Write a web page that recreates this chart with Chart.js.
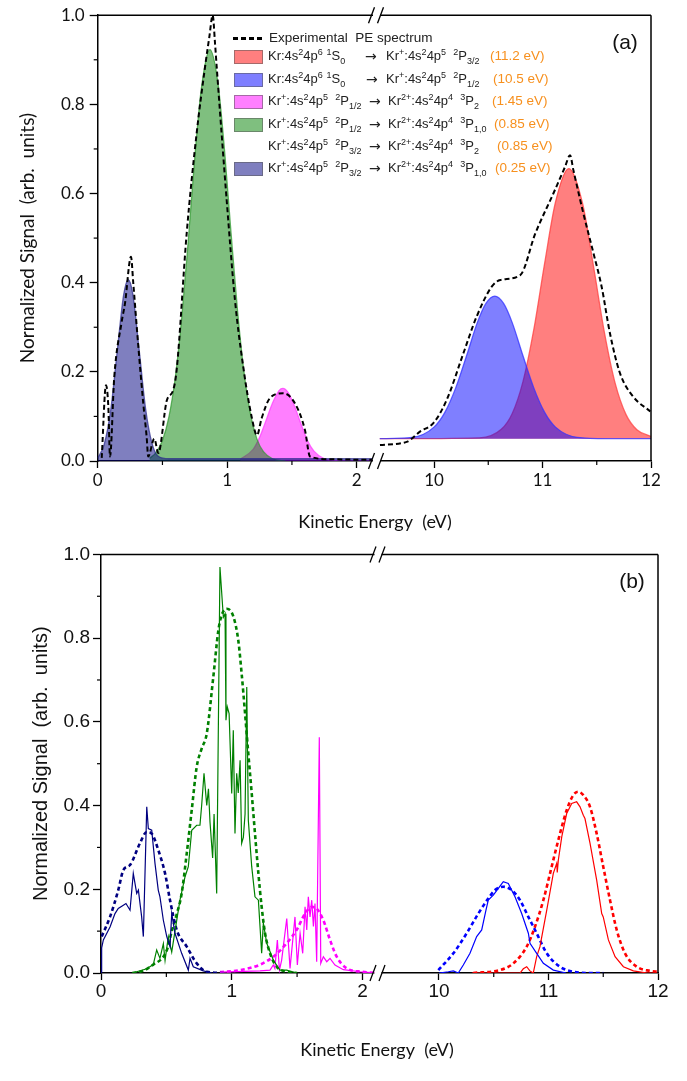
<!DOCTYPE html>
<html>
<head>
<meta charset="utf-8">
<script src="https://cdn.jsdelivr.net/npm/chart.js@4.4.1/dist/chart.umd.min.js"></script>
<style>
html,body{margin:0;padding:0;background:#fff;}
#wrap{position:relative;width:687px;height:1081px;overflow:hidden;background:#fff;}
#ca{position:absolute;left:0;top:0;}
#cb{position:absolute;left:0;top:540px;}
.lg{position:absolute;font-family:"Liberation Sans",Arial,sans-serif;font-size:13px;color:#222;white-space:nowrap;line-height:14px;}
.lg sup{font-size:9px;vertical-align:5px;line-height:0;}
.lg sub{font-size:9px;vertical-align:-4px;line-height:0;}
.ar{font-family:"DejaVu Sans",sans-serif;font-size:14px;}
.or{color:#f7901e;}
.sw{position:absolute;width:29px;height:14px;box-sizing:border-box;border:1px solid rgba(90,90,90,0.55);}
.dl{position:absolute;height:2.5px;width:30px;background:repeating-linear-gradient(90deg,#000 0 5px,transparent 5px 8px);}
</style>
</head>
<body>
<div id="wrap">
<canvas id="ca" width="687" height="540"></canvas>
<canvas id="cb" width="687" height="541"></canvas>
<div id="legend"></div>
</div>
<script>
// ---------------- tick values ----------------
const yTicks = [0, 0.2, 0.4, 0.6, 0.8, 1.0];
const yMinor = [0.1, 0.3, 0.5, 0.7, 0.9];
const xTicksLeft = [0, 1, 2];
const xTicksRight = [10, 11, 12];
const xMinorLeft = [0.5, 1.5];
const xMinorRight = [10.5, 11.5];

// ---------------- panel (a) ----------------
const expLeftX = [0.031,0.064,0.082,0.095,0.128,0.185,0.211,0.257,0.275,0.314,0.352,0.378,0.39,0.437,0.468,0.533,0.584,0.61,0.687,0.764,0.829,0.862,0.888,0.906,0.919,0.996,1.06,1.124,1.189,1.23,1.266,1.33,1.433,1.524,1.6,1.64,1.8,2.0,2.12];
const expLeftY = [0.007,0.17,0.122,0.01,0.189,0.312,0.354,0.458,0.398,0.256,0.129,0.054,0.01,0.05,0.018,0.135,0.16,0.205,0.51,0.735,0.884,0.951,1.0,0.937,0.884,0.585,0.361,0.211,0.099,0.058,0.096,0.141,0.152,0.129,0.07,0.01,0.004,0.003,0.003];
const expRightX = [9.502,9.748,9.871,9.994,10.117,10.27,10.393,10.532,10.611,10.795,10.933,11.1,11.208,11.254,11.285,11.377,11.47,11.545,11.622,11.714,11.837,11.994];
const expRightY = [0.036,0.043,0.066,0.085,0.137,0.241,0.324,0.391,0.406,0.417,0.51,0.6,0.66,0.686,0.652,0.555,0.466,0.391,0.286,0.197,0.144,0.111];

const fit025X = [0.0,0.05,0.1,0.15,0.2,0.236,0.27,0.32,0.37,0.42,0.47,0.55,1.0,1.5,2.12];
const fit025Y = [0.006,0.037,0.113,0.244,0.372,0.407,0.376,0.25,0.117,0.039,0.01,0.005,0.005,0.005,0.005];
const fit085X = [0.4,0.45,0.5,0.55,0.6,0.65,0.7,0.75,0.8,0.867,0.93,0.98,1.03,1.08,1.13,1.18,1.23,1.28,1.35,1.45];
const fit085Y = [0.006,0.019,0.046,0.099,0.189,0.324,0.497,0.681,0.835,0.923,0.845,0.695,0.511,0.337,0.199,0.105,0.049,0.021,0.005,0.0];
const fit145X = [1.1,1.2,1.25,1.3,1.35,1.4,1.43,1.47,1.52,1.57,1.62,1.67,1.75,1.85,2.0,2.12];
const fit145Y = [0.004,0.026,0.053,0.091,0.13,0.158,0.163,0.154,0.123,0.083,0.046,0.022,0.005,0.001,0.0,0.0];
const fit105X = [9.5,9.8,10.0,10.1,10.2,10.3,10.4,10.48,10.56,10.64,10.72,10.82,10.92,11.02,11.12,11.32,11.6,12.0];
const fit105Y = [0.05,0.053,0.076,0.109,0.164,0.236,0.311,0.354,0.37,0.354,0.311,0.236,0.164,0.109,0.076,0.053,0.05,0.05];
const fit112X = [9.5,10.42,10.62,10.72,10.82,10.92,11.02,11.12,11.243,11.37,11.47,11.57,11.67,11.77,11.87,12.0];
const fit112Y = [0.05,0.052,0.071,0.106,0.178,0.295,0.444,0.581,0.656,0.577,0.437,0.289,0.174,0.104,0.070,0.055];

// ---------------- panel (b) ----------------
const b025DashX = [0.005,0.069,0.132,0.171,0.222,0.298,0.35,0.388,0.438,0.49,0.528,0.579,0.656,0.732,0.809,0.96];
const b025DashY = [0.087,0.134,0.198,0.246,0.258,0.31,0.337,0.333,0.294,0.238,0.174,0.103,0.063,0.023,0.003,0.0];
const b025SolidX = [0.0,0.005,0.018,0.069,0.107,0.132,0.171,0.191,0.222,0.247,0.273,0.286,0.311,0.324,0.35,0.362,0.388,0.413,0.438,0.451,0.477,0.503,0.528,0.541,0.566,0.617,0.668,0.681,0.706,0.783,0.85];
const b025SolidY = [0.0,0.06,0.079,0.11,0.142,0.154,0.162,0.166,0.15,0.238,0.19,0.198,0.134,0.087,0.397,0.345,0.341,0.262,0.198,0.182,0.126,0.087,0.063,0.142,0.095,0.047,0.007,0.035,0.015,0.005,0.0];
const b085DashX = [0.24,0.32,0.4,0.477,0.51,0.541,0.579,0.617,0.656,0.694,0.732,0.77,0.809,0.859,0.898,0.923,0.962,1.012,1.05,1.076,1.102,1.127,1.153,1.178,1.204,1.229,1.255,1.293,1.344,1.42,1.5];
const b085DashY = [0.0,0.005,0.02,0.039,0.06,0.1,0.14,0.19,0.286,0.389,0.492,0.536,0.572,0.707,0.819,0.855,0.87,0.852,0.795,0.715,0.62,0.524,0.429,0.333,0.238,0.158,0.095,0.047,0.015,0.003,0.0];
const b085SolidX = [0.24,0.35,0.4,0.426,0.451,0.477,0.49,0.515,0.541,0.566,0.604,0.643,0.668,0.694,0.732,0.757,0.77,0.788,0.809,0.822,0.834,0.854,0.865,0.885,0.91,0.936,0.949,0.956,0.966,0.98,1.0,1.012,1.025,1.038,1.05,1.064,1.076,1.089,1.102,1.115,1.127,1.153,1.178,1.204,1.229,1.242,1.268,1.318,1.369,1.42,1.5];
const b085SolidY = [0.0,0.01,0.02,0.055,0.035,0.07,0.03,0.087,0.05,0.1,0.174,0.23,0.254,0.341,0.353,0.353,0.4,0.477,0.4,0.44,0.36,0.275,0.38,0.19,0.97,0.85,0.858,0.604,0.636,0.62,0.429,0.58,0.333,0.477,0.43,0.508,0.31,0.324,0.38,0.683,0.365,0.254,0.182,0.174,0.047,0.119,0.071,0.031,0.007,0.007,0.0];
const b145DashX = [0.91,1.064,1.217,1.318,1.42,1.497,1.561,1.612,1.65,1.701,1.752,1.803,1.88,2.0,2.12];
const b145DashY = [0.002,0.007,0.02,0.039,0.071,0.103,0.142,0.158,0.154,0.126,0.079,0.039,0.011,0.003,0.0];
const b145SolidX = [0.91,1.217,1.293,1.318,1.33,1.349,1.365,1.382,1.421,1.446,1.484,1.502,1.523,1.543,1.561,1.574,1.586,1.599,1.612,1.625,1.637,1.65,1.67,1.681,1.701,1.727,1.752,1.79,1.854,1.982,2.12];
const b145SolidY = [0.002,0.005,0.007,0.019,0.011,0.079,0.007,0.031,0.13,0.011,0.134,0.019,0.095,0.047,0.158,0.103,0.182,0.134,0.174,0.111,0.166,0.027,0.563,0.023,0.039,0.027,0.035,0.019,0.008,0.003,0.0];
const b105DashX = [9.994,10.131,10.253,10.359,10.45,10.511,10.587,10.664,10.74,10.816,10.892,10.984,11.105,11.227,11.35,11.5];
const b105DashY = [0.007,0.047,0.095,0.142,0.178,0.198,0.206,0.198,0.174,0.134,0.095,0.047,0.015,0.003,0.0,0.0];
const b105SolidX = [10.0,10.085,10.131,10.176,10.222,10.283,10.344,10.39,10.429,10.45,10.496,10.542,10.587,10.633,10.694,10.755,10.816,10.831,10.892,10.953,11.044,11.16];
const b105SolidY = [0.0,0.003,0.005,0.0,0.019,0.047,0.087,0.103,0.15,0.174,0.186,0.202,0.218,0.214,0.182,0.142,0.095,0.071,0.047,0.023,0.007,0.0];
const b112DashX = [10.313,10.557,10.679,10.801,10.877,10.953,11.029,11.105,11.166,11.227,11.272,11.318,11.379,11.44,11.5,11.562,11.623,11.699,11.806,11.927,12.0];
const b112DashY = [0.0,0.007,0.023,0.063,0.111,0.174,0.254,0.333,0.389,0.425,0.433,0.425,0.397,0.333,0.254,0.174,0.103,0.047,0.015,0.005,0.003];
const b112SolidX = [10.3,10.74,10.77,10.801,10.83,10.861,10.892,10.922,10.984,11.044,11.075,11.08,11.09,11.121,11.166,11.212,11.257,11.288,11.318,11.333,11.379,11.44,11.486,11.5,11.547,11.608,11.684,11.775,11.9,12.0];
const b112SolidY = [0.0,0.0,0.01,0.015,0.005,0.0,0.039,0.063,0.15,0.238,0.262,0.24,0.27,0.325,0.381,0.405,0.409,0.397,0.377,0.369,0.31,0.222,0.142,0.134,0.079,0.039,0.015,0.005,0.0,0.0];

// ---------------- helpers ----------------
const pts = (xs, ys) => xs.map((x, i) => ({x: x, y: ys[i]}));

const framePlugin = {
  id: 'frame',
  afterDraw(chart, args, o) {
    const {ctx, chartArea: a, scales} = chart;
    const xL = scales.xL, xR = scales.xR, y = scales.y;
    const seg = (x1, y1, x2, y2) => { ctx.beginPath(); ctx.moveTo(x1, y1); ctx.lineTo(x2, y2); ctx.stroke(); };
    ctx.save();
    ctx.strokeStyle = '#000';
    ctx.lineWidth = 1.2;
    yMinor.forEach(v => { const p = y.getPixelForValue(v); seg(a.left - o.minorLen, p, a.left, p); });
    xMinorLeft.forEach(v => { const p = xL.getPixelForValue(v); seg(p, a.bottom, p, a.bottom + o.minorLen); });
    xMinorRight.forEach(v => { const p = xR.getPixelForValue(v); seg(p, a.bottom, p, a.bottom + o.minorLen); });
    ctx.lineWidth = 1.5;
    seg(a.left, a.top, a.right, a.top);
    seg(a.right, a.top, a.right, a.bottom);
    const bx = xL.right;
    [a.top, a.bottom].forEach(yy => {
      ctx.fillStyle = '#fff';
      ctx.fillRect(bx - 3.5, yy - 2, 7, 4);
      ctx.lineWidth = 1.3;
      seg(bx - 8, yy + 8, bx - 2, yy - 8);
      seg(bx + 1, yy + 8, bx + 7, yy - 8);
    });
    // texts
    ctx.fillStyle = '#111';
    ctx.textAlign = 'center';
    ctx.textBaseline = 'middle';
    ctx.font = o.xTitleFont;
    ctx.fillText(o.xTitle, o.xTitleX, o.xTitleY);
    ctx.font = o.tagFont;
    ctx.fillText(o.tag, a.right - 26, a.top + 28);
    ctx.restore();
  }
};

function axes(opts) {
  const tickFont = {family: opts.fam, size: opts.tickSize};
  const xCommon = {
    type: 'linear', position: 'bottom', stack: 'kin',
    afterFit: s => { s.height = opts.xHeight; },
    grid: {drawOnChartArea: false, tickLength: 7, tickWidth: 1.3, tickColor: '#000'},
    border: {color: '#000', width: 1.5},
    ticks: {font: tickFont, color: '#111', padding: opts.xPad, maxRotation: 0, autoSkip: false, callback: v => String(v)}
  };
  return {
    y: {
      type: 'linear', position: 'left', min: 0, max: 1,
      afterBuildTicks: s => { s.ticks = yTicks.map(v => ({value: v})); },
      afterFit: s => { s.width = opts.yWidth; },
      grid: {drawOnChartArea: false, tickLength: 8, tickWidth: 1.3, tickColor: '#000'},
      border: {color: '#000', width: 1.5},
      ticks: {font: tickFont, color: '#111', padding: opts.yPad, callback: v => v.toFixed(1)},
      title: {display: true, text: 'Normalized Signal  (arb.  units)', color: '#111',
              font: {family: opts.titleFam, size: opts.yTitleSize}, padding: {top: opts.yTitlePad, bottom: 0}}
    },
    xL: Object.assign({}, xCommon, {
      min: 0, max: opts.leftMax, stackWeight: opts.wL,
      afterBuildTicks: s => { s.ticks = xTicksLeft.map(v => ({value: v})); }
    }),
    xR: Object.assign({}, xCommon, {
      min: opts.rightMin, max: 12, stackWeight: opts.wR,
      afterBuildTicks: s => { s.ticks = xTicksRight.map(v => ({value: v})); }
    })
  };
}

function ds(xs, ys, axis, style) {
  return Object.assign({
    data: pts(xs, ys), xAxisID: axis, yAxisID: 'y', pointRadius: 0,
    fill: false, tension: 0
  }, style);
}

// ---------------- chart (a) ----------------
const fillStyle = (line, fillc, base) => ({
  borderColor: line, borderWidth: 1.3, backgroundColor: fillc,
  fill: base === 0 ? 'origin' : {value: base}, cubicInterpolationMode: 'monotone'
});
const expStyle = {borderColor: '#000', borderWidth: 2, borderDash: [5, 3], cubicInterpolationMode: 'monotone'};

new Chart(document.getElementById('ca'), {
  type: 'line',
  data: {
    datasets: [
      ds(expLeftX, expLeftY, 'xL', expStyle),
      ds(expRightX, expRightY, 'xR', expStyle),
      ds(fit025X, fit025Y, 'xL', fillStyle('rgba(40,40,140,0.7)', 'rgba(0,0,128,0.5)', 0)),
      ds(fit085X, fit085Y, 'xL', fillStyle('rgba(40,150,40,0.7)', 'rgba(0,128,0,0.5)', 0)),
      ds(fit145X, fit145Y, 'xL', fillStyle('rgba(255,60,255,0.75)', 'rgba(255,0,255,0.5)', 0)),
      ds(fit105X, fit105Y, 'xR', fillStyle('rgba(50,50,255,0.75)', 'rgba(0,0,255,0.5)', 0.05)),
      ds(fit112X, fit112Y, 'xR', fillStyle('rgba(255,60,60,0.75)', 'rgba(255,0,0,0.5)', 0.05))
    ]
  },
  options: {
    responsive: false, animation: false, events: [],
    layout: {padding: {left: 0, top: 15, right: 36, bottom: 0}},
    plugins: {
      legend: {display: false}, tooltip: {enabled: false},
      frame: {minorLen: 4, xTitle: 'Kinetic Energy  (eV)', xTitleX: 375, xTitleY: 522,
              xTitleFont: '18px Lato, sans-serif', tag: '(a)', tagFont: '21px "Liberation Sans", Arial, sans-serif'}
    },
    scales: axes({fam: 'Lato, sans-serif', titleFam: 'Lato, sans-serif', tickSize: 17, yTitleSize: 19, yTitlePad: 16,
                  yWidth: 97.7, xHeight: 79, yPad: 5, xPad: 2, leftMax: 2.153, rightMin: 9.47, wL: 278.8, wR: 274.5})
  },
  plugins: [framePlugin]
});

// ---------------- chart (b) ----------------
const solid = c => ({borderColor: c, borderWidth: 1.2});
const dashed = c => ({borderColor: c, borderWidth: 2.6, borderDash: [4, 3], cubicInterpolationMode: 'monotone'});

new Chart(document.getElementById('cb'), {
  type: 'line',
  data: {
    datasets: [
      ds(b025SolidX, b025SolidY, 'xL', solid('#000080')),
      ds(b085SolidX, b085SolidY, 'xL', solid('#008000')),
      ds(b145SolidX, b145SolidY, 'xL', solid('#ff00ff')),
      ds(b105SolidX, b105SolidY, 'xR', solid('#0000ff')),
      ds(b112SolidX, b112SolidY, 'xR', solid('#ff0000')),
      ds(b025DashX, b025DashY, 'xL', dashed('#000080')),
      ds(b085DashX, b085DashY, 'xL', dashed('#008000')),
      ds(b145DashX, b145DashY, 'xL', dashed('#ff00ff')),
      ds(b105DashX, b105DashY, 'xR', dashed('#0000ff')),
      ds(b112DashX, b112DashY, 'xR', dashed('#ff0000'))
    ]
  },
  options: {
    responsive: false, animation: false, events: [],
    layout: {padding: {left: 0, top: 14, right: 29, bottom: 0}},
    plugins: {
      legend: {display: false}, tooltip: {enabled: false},
      frame: {minorLen: 4, xTitle: 'Kinetic Energy  (eV)', xTitleX: 377, xTitleY: 510,
              xTitleFont: '18px Lato, sans-serif', tag: '(b)', tagFont: '21px "Liberation Sans", Arial, sans-serif'}
    },
    scales: axes({fam: '"Liberation Sans", Arial, sans-serif', titleFam: '"Liberation Sans", Arial, sans-serif', tickSize: 19,
                  yTitleSize: 20, yTitlePad: 29, yWidth: 101, xHeight: 108, yPad: 3, xPad: 0,
                  leftMax: 2.119, rightMin: 9.443, wL: 277, wR: 280})
  },
  plugins: [framePlugin]
});

// ---------------- legend of (a) ----------------
const legendRows = [
  {c: 'rgba(255,0,0,0.5)', y: 57, a: 'Kr:4s<sup>2</sup>4p<sup>6</sup> <sup>1</sup>S<sub>0</sub>', ax: 365,
   b: 'Kr<sup>+</sup>:4s<sup>2</sup>4p<sup>5</sup>&nbsp; <sup>2</sup>P<sub>3/2</sub>', bx: 386, e: '(11.2 eV)', ex: 490},
  {c: 'rgba(0,0,255,0.5)', y: 80, a: 'Kr:4s<sup>2</sup>4p<sup>6</sup> <sup>1</sup>S<sub>0</sub>', ax: 366,
   b: 'Kr<sup>+</sup>:4s<sup>2</sup>4p<sup>5</sup>&nbsp; <sup>2</sup>P<sub>1/2</sub>', bx: 386, e: '(10.5 eV)', ex: 493},
  {c: 'rgba(255,0,255,0.5)', y: 102, a: 'Kr<sup>+</sup>:4s<sup>2</sup>4p<sup>5</sup>&nbsp; <sup>2</sup>P<sub>1/2</sub>', ax: 369,
   b: 'Kr<sup>2+</sup>:4s<sup>2</sup>4p<sup>4</sup>&nbsp; <sup>3</sup>P<sub>2</sub>', bx: 388, e: '(1.45 eV)', ex: 492},
  {c: 'rgba(0,128,0,0.5)', y: 125, a: 'Kr<sup>+</sup>:4s<sup>2</sup>4p<sup>5</sup>&nbsp; <sup>2</sup>P<sub>1/2</sub>', ax: 369,
   b: 'Kr<sup>2+</sup>:4s<sup>2</sup>4p<sup>4</sup>&nbsp; <sup>3</sup>P<sub>1,0</sub>', bx: 388, e: '(0.85 eV)', ex: 494},
  {c: null, y: 147, a: 'Kr<sup>+</sup>:4s<sup>2</sup>4p<sup>5</sup>&nbsp; <sup>2</sup>P<sub>3/2</sub>', ax: 369,
   b: 'Kr<sup>2+</sup>:4s<sup>2</sup>4p<sup>4</sup>&nbsp; <sup>3</sup>P<sub>2</sub>', bx: 388, e: '(0.85 eV)', ex: 497},
  {c: 'rgba(0,0,128,0.5)', y: 169, a: 'Kr<sup>+</sup>:4s<sup>2</sup>4p<sup>5</sup>&nbsp; <sup>2</sup>P<sub>3/2</sub>', ax: 369,
   b: 'Kr<sup>2+</sup>:4s<sup>2</sup>4p<sup>4</sup>&nbsp; <sup>3</sup>P<sub>1,0</sub>', bx: 388, e: '(0.25 eV)', ex: 495}
];
(function buildLegend() {
  const L = document.getElementById('legend');
  let h = '<div class="dl" style="left:233px;top:37px"></div>' +
          '<div class="lg" style="left:269px;top:31px;font-size:13.5px">Experimental&nbsp; PE spectrum</div>';
  legendRows.forEach(r => {
    if (r.c) h += '<div class="sw" style="left:234px;top:' + (r.y - 7) + 'px;background:' + r.c + '"></div>';
    h += '<div class="lg" style="left:268px;top:' + (r.y - 8) + 'px">' + r.a + '</div>';
    h += '<div class="lg ar" style="left:' + r.ax + 'px;top:' + (r.y - 8) + 'px">&rarr;</div>';
    h += '<div class="lg" style="left:' + r.bx + 'px;top:' + (r.y - 8) + 'px">' + r.b + '</div>';
    h += '<div class="lg or" style="left:' + r.ex + 'px;top:' + (r.y - 8) + 'px;font-size:13.5px">' + r.e + '</div>';
  });
  L.innerHTML = h;
})();
</script>
</body>
</html>
